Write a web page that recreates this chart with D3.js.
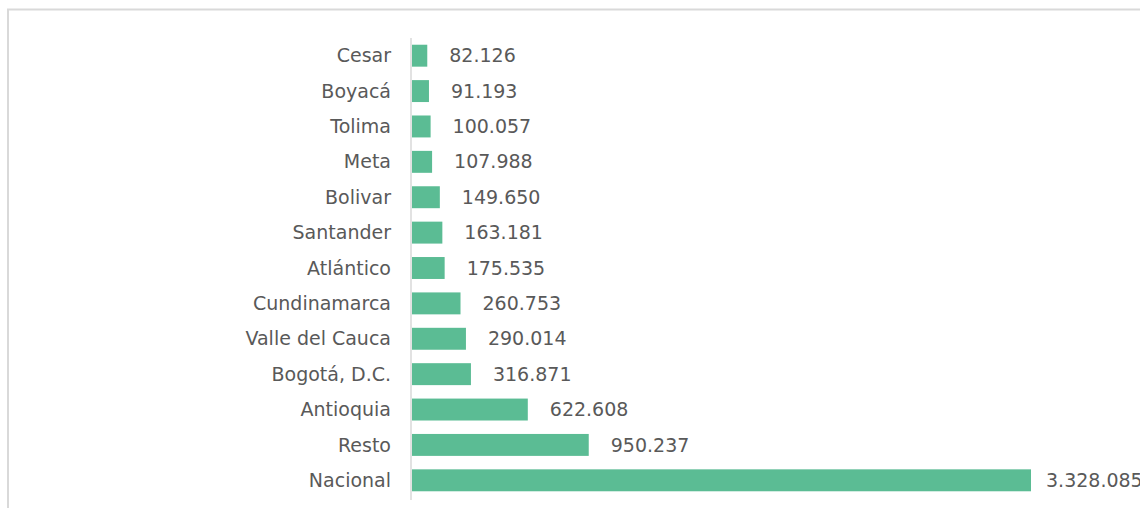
<!DOCTYPE html>
<html>
<head>
<meta charset="utf-8">
<script src="https://cdn.jsdelivr.net/npm/d3@7"></script>
<style>
  body { margin: 0; background: #fff; }
  .lbl { font-family: "Century Gothic", "DejaVu Sans", sans-serif; fill: #595959; }
</style>
</head>
<body>
<svg id="chart"></svg>
<script>
const categories = ['Cesar', 'Boyacá', 'Tolima', 'Meta', 'Bolivar', 'Santander', 'Atlántico',
  'Cundinamarca', 'Valle del Cauca', 'Bogotá, D.C.', 'Antioquia', 'Resto', 'Nacional'];
const values = [82126, 91193, 100057, 107988, 149650, 163181, 175535,
  260753, 290014, 316871, 622608, 950237, 3328085];
const valueLabels = ['82.126', '91.193', '100.057', '107.988', '149.650', '163.181', '175.535',
  '260.753', '290.014', '316.871', '622.608', '950.237', '3.328.085'];

const totalW = 1140, totalH = 508;
const mg = { top: 38, left: 411 };
const W = 619;

const svg = d3.select('#chart').attr('width', totalW).attr('height', totalH);

// chart area border
svg.append('rect').attr('x', 8).attr('y', 9.5).attr('width', 1200).attr('height', 600)
  .attr('fill', 'none').attr('stroke', '#d9d9d9').attr('stroke-width', 2);

const g = svg.append('g').attr('transform', `translate(${mg.left},${mg.top})`);

const x = d3.scaleLinear().domain([0, 3328085]).range([0, W]);
const y = d3.scaleBand().domain(categories).range([0, 460]).paddingInner(0.38).paddingOuter(0.19);

g.selectAll('.bar').data(values).enter().append('rect')
  .attr('x', 1).attr('y', (d, i) => y(categories[i]))
  .attr('width', (d) => x(d)).attr('height', y.bandwidth())
  .attr('fill', '#5bbc94');

g.append('line').attr('x1', 0).attr('x2', 0).attr('y1', 0).attr('y2', 462)
  .attr('stroke', '#d9d9d9').attr('stroke-width', 1.5);

g.selectAll('.cat').data(categories).enter().append('text')
  .attr('class', 'lbl').attr('x', -20).attr('y', (d) => y(d) + y.bandwidth() / 2)
  .attr('dy', '0.35em').attr('text-anchor', 'end').attr('font-size', 19).text((d) => d);

g.selectAll('.val').data(values).enter().append('text')
  .attr('class', 'lbl').attr('x', (d) => Math.min(x(d) + 23, 635))
  .attr('y', (d, i) => y(categories[i]) + y.bandwidth() / 2)
  .attr('dy', '0.35em').attr('font-size', 19).text((d, i) => valueLabels[i]);
</script>
</body>
</html>
